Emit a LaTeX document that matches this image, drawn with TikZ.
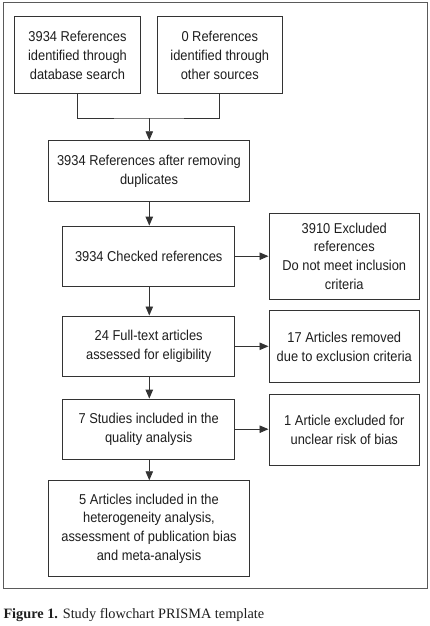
\documentclass[tikz,border=0pt]{standalone}
\usepackage{fontspec}
\setmainfont{Liberation Sans}[FakeStretch=0.9]
\newfontfamily\capfont{Liberation Serif}
\usetikzlibrary{arrows.meta}
\definecolor{ln}{HTML}{333333}
\definecolor{fr}{HTML}{5A5A5A}
\definecolor{tx}{HTML}{1E1E1E}
\begin{document}
\begin{tikzpicture}[x=1pt,y=-1pt,
  box/.style={draw=ln,line width=0.9pt,fill=white,inner sep=0pt,align=center,text=tx,
    font=\fontsize{14.3}{18.9}\selectfont},
  arr/.style={draw=ln,line width=0.9pt,-{Triangle[length=9pt,width=7.5pt]}},
  con/.style={draw=ln,line width=0.9pt}]
\useasboundingbox (0,0) rectangle (430,626);
\draw[fr,line width=0.9pt] (3,2.7) rectangle (427.5,588.3);
\node[box,minimum width=125.6pt,minimum height=77pt] (A) at (77.5,55.2) {3934 References\\identified through\\database search};
\node[box,minimum width=125.7pt,minimum height=77pt] (B) at (219.8,55.2) {0 References\\identified through\\other sources};
\node[box,minimum width=200.6pt,minimum height=60.6pt] (C) at (149,171) {3934 References after removing\\duplicates};
\node[box,minimum width=172pt,minimum height=60.3pt] (D) at (148.7,256.2) {3934 Checked references};
\node[box,minimum width=150.7pt,minimum height=86pt] (E) at (344.3,256.3) {3910 Excluded\\references\\Do not meet inclusion\\criteria};
\node[box,minimum width=172pt,minimum height=60.7pt] (F) at (148.7,346.3) {24 Full-text articles\\assessed for eligibility};
\node[box,minimum width=150.7pt,minimum height=71.6pt] (G) at (344.3,346.5) {17 Articles removed\\due to exclusion criteria};
\node[box,minimum width=172pt,minimum height=60.3pt] (H) at (148.7,429.2) {7 Studies included in the\\quality analysis};
\node[box,minimum width=150.7pt,minimum height=71pt] (I) at (344.3,429.5) {1 Article excluded for\\unclear risk of bias};
\node[box,minimum width=200.6pt,minimum height=96pt] (J) at (149,528.7) {5 Articles included in the\\heterogeneity analysis,\\assessment of publication bias\\and meta-analysis};
\coordinate (m) at (149.3,118);
\draw[con] (A.south) |- (m) -| (B.south);
\draw[arr] (m) -- (m |- C.north);
\draw[arr] (m |- C.south) -- (m |- D.north);
\draw[arr] (m |- D.south) -- (m |- F.north);
\draw[arr] (m |- F.south) -- (m |- H.north);
\draw[arr] (m |- H.south) -- (m |- J.north);
\draw[arr] (D.east) -- (D.east -| E.west);
\draw[arr] (F.east) -- (F.east -| G.west);
\draw[arr] (H.east) -- (H.east -| I.west);
\node[anchor=base west,inner sep=0pt,text=tx,font=\capfont\fontsize{14.3}{16}\selectfont] (cap) at (3.3,618) {\textbf{Figure 1.} Study flowchart PRISMA template};
\end{tikzpicture}
\end{document}
